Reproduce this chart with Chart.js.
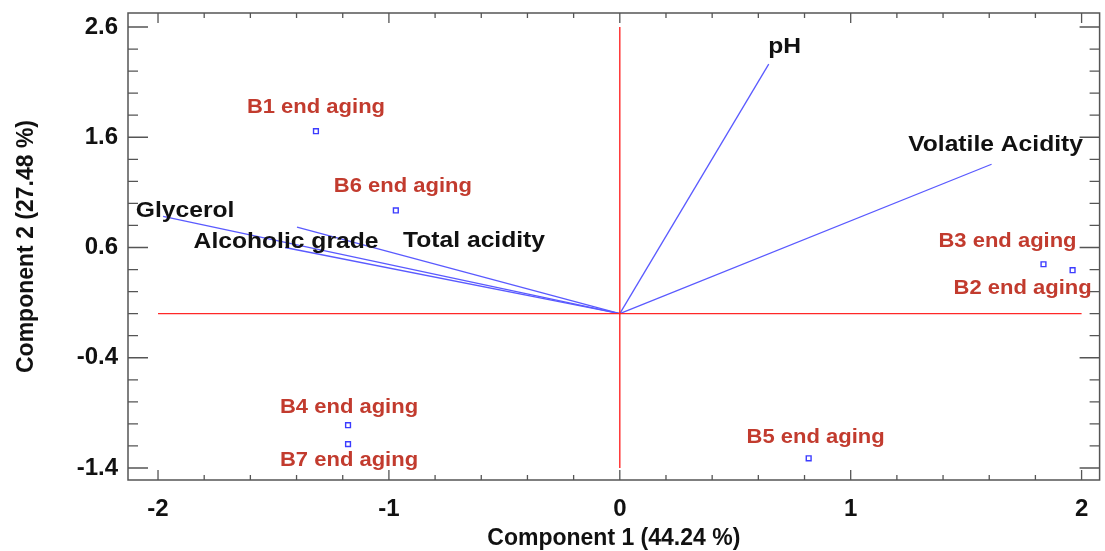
<!DOCTYPE html>
<html lang="en">
<head>
  <meta charset="UTF-8" />
  <title>Biplot</title>
  <script src="https://cdn.jsdelivr.net/npm/chart.js"></script>
  <style>
    html, body {
      margin: 0;
      padding: 0;
      background: #fff;
    }
    #wrap {
      width: 1105px;
      height: 551px;
    }
  </style>
</head>
<body>
  <div id="wrap"><canvas id="chart" width="1105" height="551"></canvas></div>

  <script>
    // samples (component scores)
    const sampleNames = ['B1 end aging', 'B6 end aging', 'B3 end aging', 'B2 end aging',
                         'B4 end aging', 'B7 end aging', 'B5 end aging'];
    const sampleX = [-1.316, -0.970, 1.835, 1.961, -1.177, -1.177, 0.818];
    const sampleY = [1.655, 0.936, 0.448, 0.394, -1.012, -1.184, -1.312];

    // variables (loading vectors)
    const varNames = ['Glycerol', 'Alcoholic grade', 'Total acidity', 'pH', 'Volatile Acidity'];
    const varX = [-1.978, -1.45, -1.398, 0.645, 1.610];
    const varY = [0.882, 0.60, 0.784, 2.263, 1.355];

    const xTicks = [-2, -1, 0, 1, 2];
    const yTicks = [2.6, 1.6, 0.6, -0.4, -1.4];

    // label offsets in px relative to the mark
    const sampleLabelOff = [[0, -24], [7, -24], [-36, -23], [-50, 18], [1, -18], [1, 16], [7, -21]];
    const varLabelOff = [[22, -5], [1, -6], [177, 14], [16, -17], [4, -19]];

    const fontFam = '"Liberation Sans", Arial, sans-serif';

    const datasets = [];
    // red reference cross
    datasets.push({
      data: [{ x: xTicks[0], y: 0 }, { x: xTicks[xTicks.length - 1], y: 0 }],
      showLine: true, borderColor: 'rgb(255,40,40)', borderWidth: 1.4, pointRadius: 0
    });
    datasets.push({
      data: [{ x: 0, y: yTicks[yTicks.length - 1] }, { x: 0, y: yTicks[0] }],
      showLine: true, borderColor: 'rgb(255,40,40)', borderWidth: 1.4, pointRadius: 0
    });
    varNames.forEach((n, i) => {
      datasets.push({
        label: n,
        data: [{ x: 0, y: 0 }, { x: varX[i], y: varY[i] }],
        showLine: true, borderColor: 'rgb(90,90,255)', borderWidth: 1.3, pointRadius: 0
      });
    });
    datasets.push({
      label: 'samples',
      data: sampleX.map((x, i) => ({ x, y: sampleY[i] })),
      showLine: false,
      pointStyle: 'rect',
      pointRadius: 3.4,
      borderWidth: 1.4,
      borderColor: 'rgb(60,60,255)',
      backgroundColor: '#fff'
    });

    function stretchText(ctx, text, x, y, sx) {
      ctx.save();
      ctx.translate(x, y);
      ctx.scale(sx, 1);
      ctx.fillText(text, 0, 0);
      ctx.restore();
    }

    const framePlugin = {
      id: 'frame',
      afterDraw(chart) {
        const { ctx, chartArea: a, scales } = chart;
        const xs = scales.x, ys = scales.y;
        ctx.save();
        ctx.strokeStyle = '#555';
        ctx.lineWidth = 1.5;
        ctx.strokeRect(a.left, a.top, a.right - a.left, a.bottom - a.top);
        ctx.lineWidth = 1.3;
        ctx.beginPath();
        // x ticks every 0.2, bottom and top
        for (let k = -10; k <= 10; k++) {
          const px = xs.getPixelForValue(k / 5);
          if (px < a.left || px > a.right) continue;
          const len = k % 5 === 0 ? 10 : 5;
          ctx.moveTo(px, a.bottom); ctx.lineTo(px, a.bottom - len);
          ctx.moveTo(px, a.top); ctx.lineTo(px, a.top + len);
        }
        // y ticks every 0.2 (major at -1.4 + n), left and right
        for (let k = -2; k <= 22; k++) {
          const py = ys.getPixelForValue(-1.4 + k / 5);
          if (py < a.top || py > a.bottom) continue;
          const len = k % 5 === 0 ? 20 : 10;
          ctx.moveTo(a.left, py); ctx.lineTo(a.left + len, py);
          ctx.moveTo(a.right, py); ctx.lineTo(a.right - len, py);
        }
        ctx.stroke();

        // labels
        ctx.textAlign = 'center';
        ctx.textBaseline = 'middle';
        ctx.font = 'bold 20px ' + fontFam;
        ctx.fillStyle = '#c23b2e';
        sampleNames.forEach((n, i) => {
          const px = xs.getPixelForValue(sampleX[i]) + sampleLabelOff[i][0];
          const py = ys.getPixelForValue(sampleY[i]) + sampleLabelOff[i][1];
          stretchText(ctx, n, px, py, 1.1);
        });
        ctx.font = 'bold 22px ' + fontFam;
        ctx.fillStyle = '#111';
        varNames.forEach((n, i) => {
          const px = xs.getPixelForValue(varX[i]) + varLabelOff[i][0];
          const py = ys.getPixelForValue(varY[i]) + varLabelOff[i][1];
          stretchText(ctx, n, px, py, 1.12);
        });
        ctx.restore();
      }
    };

    new Chart(document.getElementById('chart').getContext('2d'), {
      type: 'scatter',
      data: { datasets },
      options: {
        responsive: false,
        animation: false,
        layout: { padding: { top: 13, right: 0, left: 0, bottom: 0 } },
        plugins: { legend: { display: false }, tooltip: { enabled: false } },
        scales: {
          x: {
            type: 'linear',
            min: -2.13,
            max: 2.078,
            afterBuildTicks: s => { s.ticks = xTicks.map(v => ({ value: v })); },
            afterFit: s => { s.height = 71; s.paddingLeft = 0; s.paddingRight = 0; },
            grid: { display: false, drawTicks: false },
            border: { display: false },
            ticks: {
              padding: 15,
              color: '#111',
              font: { family: fontFam, size: 24, weight: 'bold' },
              callback: v => String(v)
            },
            title: {
              display: true,
              text: 'Component 1 (44.24 %)',
              color: '#111',
              font: { family: fontFam, size: 23, weight: 'bold' },
              padding: { top: 0, bottom: -1 }
            }
          },
          y: {
            type: 'linear',
            min: -1.509,
            max: 2.727,
            afterBuildTicks: s => { s.ticks = yTicks.map(v => ({ value: v })); },
            afterFit: s => { s.width = 128; s.paddingTop = 0; s.paddingBottom = 0; },
            grid: { display: false, drawTicks: false },
            border: { display: false },
            ticks: {
              padding: 10,
              color: '#111',
              font: { family: fontFam, size: 24, weight: 'bold' },
              callback: v => Number(v).toFixed(1)
            },
            title: {
              display: true,
              text: 'Component 2 (27.48 %)',
              color: '#111',
              font: { family: fontFam, size: 23, weight: 'bold' },
              padding: { top: 13, bottom: 0 }
            }
          }
        }
      },
      plugins: [framePlugin]
    });
  </script>
</body>
</html>
